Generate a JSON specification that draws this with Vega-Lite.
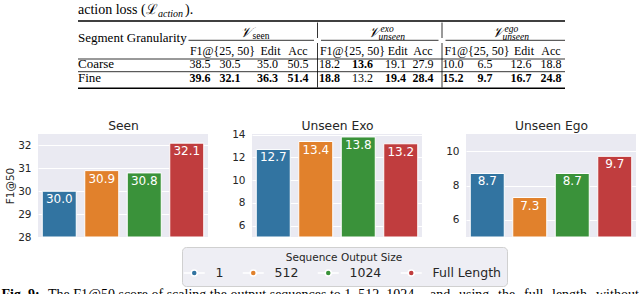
{
  "$schema": "https://vega.github.io/schema/vega-lite/v6.json",
  "background": "white",
  "padding": {"left": 1, "top": 2, "right": 0, "bottom": 0},
  "bounds": "flush",
  "spacing": 44,
  "datasets": {
    "seen": [
      {"size": "1", "v": 30.0}, {"size": "512", "v": 30.9}, {"size": "1024", "v": 30.8}, {"size": "Full Length", "v": 32.1}
    ],
    "exo": [
      {"size": "1", "v": 12.7}, {"size": "512", "v": 13.4}, {"size": "1024", "v": 13.8}, {"size": "Full Length", "v": 13.2}
    ],
    "ego": [
      {"size": "1", "v": 8.7}, {"size": "512", "v": 7.3}, {"size": "1024", "v": 8.7}, {"size": "Full Length", "v": 9.7}
    ],
    "cells": [
      {"c": 0, "r": 0, "t": "action loss (", "k": "capL"},
      {"c": 0.5, "r": 0, "t": "ℒ", "k": "capL"},
      {"c": 1, "r": 0, "t": "action", "k": "capSub"},
      {"c": 2, "r": 0, "t": ").", "k": "capL"},
      {"c": 0, "r": 4, "t": "Segment Granularity", "k": "left"},
      {"c": 0, "r": 10, "t": "Coarse", "k": "left"},
      {"c": 0, "r": 12, "t": "Fine", "k": "left"},
      {"c": 7, "r": 3, "t": "𝒱", "k": "V"},
      {"c": 7, "r": 3, "t": "seen", "k": "subU"},
      {"c": 17, "r": 3, "t": "𝒱", "k": "V"},
      {"c": 17, "r": 3, "t": "unseen", "k": "subI"},
      {"c": 17, "r": 3, "t": "exo", "k": "supI"},
      {"c": 27, "r": 3, "t": "𝒱", "k": "V"},
      {"c": 27, "r": 3, "t": "unseen", "k": "subI"},
      {"c": 27, "r": 3, "t": "ego", "k": "supI"},
      {"c": 5, "r": 8, "t": "F1@{25, 50}", "k": "num"},
      {"c": 9, "r": 8, "t": "Edit", "k": "num"},
      {"c": 10, "r": 8, "t": "Acc", "k": "num"},
      {"c": 15, "r": 8, "t": "F1@{25, 50}", "k": "num"},
      {"c": 19, "r": 8, "t": "Edit", "k": "num"},
      {"c": 20, "r": 8, "t": "Acc", "k": "num"},
      {"c": 25, "r": 8, "t": "F1@{25, 50}", "k": "num"},
      {"c": 29, "r": 8, "t": "Edit", "k": "num"},
      {"c": 30, "r": 8, "t": "Acc", "k": "num"},
      {"c": 4, "r": 10, "t": "38.5", "k": "num"},
      {"c": 6, "r": 10, "t": "30.5", "k": "num"},
      {"c": 8, "r": 10, "t": "35.0", "k": "num"},
      {"c": 10, "r": 10, "t": "50.5", "k": "num"},
      {"c": 14, "r": 10, "t": "18.2", "k": "num"},
      {"c": 16, "r": 10, "t": "13.6", "k": "bold"},
      {"c": 18, "r": 10, "t": "19.1", "k": "num"},
      {"c": 20, "r": 10, "t": "27.9", "k": "num"},
      {"c": 24, "r": 10, "t": "10.0", "k": "num"},
      {"c": 26, "r": 10, "t": "6.5", "k": "num"},
      {"c": 28, "r": 10, "t": "12.6", "k": "num"},
      {"c": 30, "r": 10, "t": "18.8", "k": "num"},
      {"c": 4, "r": 12, "t": "39.6", "k": "bold"},
      {"c": 6, "r": 12, "t": "32.1", "k": "bold"},
      {"c": 8, "r": 12, "t": "36.3", "k": "bold"},
      {"c": 10, "r": 12, "t": "51.4", "k": "bold"},
      {"c": 14, "r": 12, "t": "18.8", "k": "bold"},
      {"c": 16, "r": 12, "t": "13.2", "k": "num"},
      {"c": 18, "r": 12, "t": "19.4", "k": "bold"},
      {"c": 20, "r": 12, "t": "28.4", "k": "bold"},
      {"c": 24, "r": 12, "t": "15.2", "k": "bold"},
      {"c": 26, "r": 12, "t": "9.7", "k": "bold"},
      {"c": 28, "r": 12, "t": "16.7", "k": "bold"},
      {"c": 30, "r": 12, "t": "24.8", "k": "bold"},
      {"c": -1, "r": 15, "t": "Fig. 9:", "k": "figB"},
      {"c": -0.5, "r": 15, "t": "The F1@50 score of scaling the output sequences to 1, 512, 1024", "k": "fig"},
      {"c": -0.95, "r": 15, "t": "and", "k": "fig"},
      {"c": -0.9, "r": 15, "t": "using", "k": "fig"},
      {"c": -0.85, "r": 15, "t": "the", "k": "fig"},
      {"c": -0.8, "r": 15, "t": "full", "k": "fig"},
      {"c": -0.75, "r": 15, "t": "length", "k": "fig"},
      {"c": -0.7, "r": 15, "t": "without", "k": "fig"}
    ],
    "hrules": [
      {"c": 0, "c2": 31, "r": 1, "w": "thick"},
      {"c": 3, "c2": 11, "r": 6, "w": "thin"},
      {"c": 13, "c2": 21, "r": 6, "w": "thin"},
      {"c": 23, "c2": 31, "r": 6, "w": "thin"},
      {"c": 0, "c2": 31, "r": 9, "w": "thin"},
      {"c": 0, "c2": 31, "r": 11, "w": "thin"},
      {"c": 0, "c2": 31, "r": 14, "w": "thick"}
    ],
    "vrules": [
      {"c": 12, "r": 2, "r2": 5},
      {"c": 12, "r": 7, "r2": 13},
      {"c": 22, "r": 2, "r2": 5},
      {"c": 22, "r": 7, "r2": 13}
    ]
  },
  "hconcat": [
    {
      "width": 170,
      "height": 103,
      "resolve": {"scale": {"x": "independent", "y": "independent"}},
      "layer": [
        {
          "data": {"name": "seen"},
          "encoding": {
            "x": {"field": "size", "type": "nominal", "sort": null, "scale": {"paddingInner": 0.2, "paddingOuter": 0.1},
              "axis": {"orient": "top", "title": "Seen", "labels": false, "ticks": false, "domain": false, "grid": false, "titleFontSize": 12.3, "titlePadding": 2}},
            "y": {"field": "v", "type": "quantitative", "scale": {"domain": [28, 32.5], "nice": false, "zero": false}, "axis": {"values": [28, 29, 30, 31, 32], "title": "F1@50"}}
          },
          "layer": [
            {
              "mark": {"type": "bar", "stroke": "white", "strokeWidth": 1, "clip": true},
              "encoding": {
                "y2": {"datum": 28},
                "color": {
                  "field": "size", "type": "nominal",
                  "scale": {"domain": ["1", "512", "1024", "Full Length"], "range": ["#3274a1", "#e1812c", "#3a923a", "#c03d3e"]},
                  "legend": {
                    "title": "Sequence Output Size",
                    "orient": "none",
                    "legendX": 144,
                    "legendY": 113,
                    "direction": "horizontal",
                    "titleAnchor": "middle",
                    "symbolType": "M-2.1,0L-0.6,0M0.6,0L2.1,0M0.6,0A0.6,0.6,0,1,1,-0.6,0A0.6,0.6,0,1,1,0.6,0Z",
                    "symbolSize": 100,
                    "labelOffset": 15,
                    "columnPadding": 15,
                    "encode": {
                      "symbols": {
                        "update": {
                          "fill": {"signal": "datum.value == '1' ? '#1f77b4' : datum.value == '512' ? '#ff7f0e' : datum.value == '1024' ? '#2ca02c' : '#d62728'"},
                          "stroke": {"value": "white"},
                          "strokeWidth": {"value": 1.5},
                          "opacity": {"value": 1}
                        }
                      }
                    }
                  }
                }
              }
            },
            {
              "mark": {"type": "text", "color": "white", "font": "DejaVu Sans", "fontSize": 12, "baseline": "top", "dy": 3},
              "encoding": {"text": {"field": "v", "type": "quantitative", "format": ".1f"}}
            }
          ]
        },
        {
          "encoding": {
            "x": {"field": "c", "type": "quantitative", "axis": null, "scale": {"nice": false, "zero": false,
              "domain": [-1, -0.95, -0.9, -0.85, -0.8, -0.75, -0.7, -0.5, 0, 0.5, 1, 2, 3, 4, 5, 6, 7, 8, 9, 10, 11, 12, 13, 14, 15, 16, 17, 18, 19, 20, 21, 22, 23, 24, 25, 26, 27, 28, 29, 30, 31],
              "range": [-36.5, 392, 421, 460, 486, 514, 558, 10, 40, 108, 120, 147, 150.5, 162, 184.5, 192, 214, 229.5, 232.5, 260, 276, 279.5, 283, 291.5, 314.5, 324.5, 341.5, 357.5, 359.7, 385, 400.5, 404, 407.5, 415, 439, 447, 465.5, 483, 486, 513, 527]}},
            "y": {"field": "r", "type": "quantitative", "axis": null, "scale": {"nice": false, "zero": false,
              "domain": [0, 1, 2, 3, 4, 5, 6, 7, 8, 9, 10, 11, 12, 13, 14, 15],
              "range": [-120.5, -113, -111.5, -101, -96.5, -96, -93.7, -91, -83.5, -75, -69.7, -62.3, -55.7, -46.5, -45.7, 165]}}
          },
          "layer": [
            {"data": {"name": "hrules"}, "transform": [{"filter": "datum.w == 'thick'"}], "mark": {"type": "rule", "color": "black", "strokeWidth": 1.6}, "encoding": {"x2": {"field": "c2"}}},
            {"data": {"name": "hrules"}, "transform": [{"filter": "datum.w == 'thin'"}], "mark": {"type": "rule", "color": "black", "strokeWidth": 0.8}, "encoding": {"x2": {"field": "c2"}}},
            {"data": {"name": "vrules"}, "mark": {"type": "rule", "color": "black", "strokeWidth": 0.8}, "encoding": {"y2": {"field": "r2"}}},
            {"data": {"name": "cells"}, "transform": [{"filter": "datum.k == 'capL'"}], "mark": {"type": "text", "font": "Liberation Serif", "fontSize": 14, "align": "left", "baseline": "alphabetic", "color": "black"}, "encoding": {"text": {"field": "t"}}},
            {"data": {"name": "cells"}, "transform": [{"filter": "datum.k == 'capSub'"}], "mark": {"type": "text", "font": "Liberation Serif", "fontSize": 10, "fontStyle": "italic", "align": "left", "baseline": "alphabetic", "dy": 3, "color": "black"}, "encoding": {"text": {"field": "t"}}},
            {"data": {"name": "cells"}, "transform": [{"filter": "datum.k == 'left'"}], "mark": {"type": "text", "font": "Liberation Serif", "fontSize": 13, "align": "left", "baseline": "middle", "color": "black"}, "encoding": {"text": {"field": "t"}}},
            {"data": {"name": "cells"}, "transform": [{"filter": "datum.k == 'num'"}], "mark": {"type": "text", "font": "Liberation Serif", "fontSize": 12, "align": "center", "baseline": "middle", "color": "black"}, "encoding": {"text": {"field": "t"}}},
            {"data": {"name": "cells"}, "transform": [{"filter": "datum.k == 'bold'"}], "mark": {"type": "text", "font": "Liberation Serif", "fontSize": 12, "fontWeight": "bold", "align": "center", "baseline": "middle", "color": "black"}, "encoding": {"text": {"field": "t"}}},
            {"data": {"name": "cells"}, "transform": [{"filter": "datum.k == 'V'"}], "mark": {"type": "text", "font": "DejaVu Serif", "fontSize": 14, "fontStyle": "italic", "align": "right", "baseline": "middle", "color": "black"}, "encoding": {"text": {"field": "t"}}},
            {"data": {"name": "cells"}, "transform": [{"filter": "datum.k == 'subU'"}], "mark": {"type": "text", "font": "Liberation Serif", "fontSize": 9.5, "align": "left", "baseline": "middle", "dy": 3, "dx": 0.5, "color": "black"}, "encoding": {"text": {"field": "t"}}},
            {"data": {"name": "cells"}, "transform": [{"filter": "datum.k == 'subI'"}], "mark": {"type": "text", "font": "Liberation Serif", "fontSize": 9.5, "fontStyle": "italic", "align": "left", "baseline": "middle", "dy": 4, "dx": -1, "color": "black"}, "encoding": {"text": {"field": "t"}}},
            {"data": {"name": "cells"}, "transform": [{"filter": "datum.k == 'supI'"}], "mark": {"type": "text", "font": "Liberation Serif", "fontSize": 9.5, "fontStyle": "italic", "align": "left", "baseline": "middle", "dy": -4, "dx": 1, "color": "black"}, "encoding": {"text": {"field": "t"}}},
            {"data": {"name": "cells"}, "transform": [{"filter": "datum.k == 'figB'"}], "mark": {"type": "text", "font": "Liberation Serif", "fontSize": 14, "fontWeight": "bold", "align": "left", "baseline": "alphabetic", "color": "black"}, "encoding": {"text": {"field": "t"}}},
            {"data": {"name": "cells"}, "transform": [{"filter": "datum.k == 'fig'"}], "mark": {"type": "text", "font": "Liberation Serif", "fontSize": 14, "align": "left", "baseline": "alphabetic", "color": "black"}, "encoding": {"text": {"field": "t"}}}
          ]
        }
      ]
    },
    {
      "width": 170,
      "height": 103,
      "data": {"name": "exo"},
      "encoding": {
        "x": {"field": "size", "type": "nominal", "sort": null, "scale": {"paddingInner": 0.2, "paddingOuter": 0.1},
          "axis": {"orient": "top", "title": "Unseen Exo", "labels": false, "ticks": false, "domain": false, "grid": false, "titleFontSize": 12.3, "titlePadding": 2}},
        "y": {"field": "v", "type": "quantitative", "scale": {"domain": [5, 14.06], "nice": false, "zero": false}, "axis": {"values": [6, 8, 10, 12, 14], "title": null}}
      },
      "layer": [
        {
          "mark": {"type": "bar", "stroke": "white", "strokeWidth": 1, "clip": true},
          "encoding": {
            "y2": {"datum": 5},
            "color": {"field": "size", "type": "nominal", "scale": {"domain": ["1", "512", "1024", "Full Length"], "range": ["#3274a1", "#e1812c", "#3a923a", "#c03d3e"]}}
          }
        },
        {
          "mark": {"type": "text", "color": "white", "font": "DejaVu Sans", "fontSize": 12, "baseline": "top", "dy": 3},
          "encoding": {"text": {"field": "v", "type": "quantitative", "format": ".1f"}}
        }
      ]
    },
    {
      "width": 170,
      "height": 103,
      "data": {"name": "ego"},
      "encoding": {
        "x": {"field": "size", "type": "nominal", "sort": null, "scale": {"paddingInner": 0.2, "paddingOuter": 0.1},
          "axis": {"orient": "top", "title": "Unseen Ego", "labels": false, "ticks": false, "domain": false, "grid": false, "titleFontSize": 12.3, "titlePadding": 2}},
        "y": {"field": "v", "type": "quantitative", "scale": {"domain": [5, 11], "nice": false, "zero": false}, "axis": {"values": [6, 8, 10], "title": null}}
      },
      "layer": [
        {
          "mark": {"type": "bar", "stroke": "white", "strokeWidth": 1, "clip": true},
          "encoding": {
            "y2": {"datum": 5},
            "color": {"field": "size", "type": "nominal", "scale": {"domain": ["1", "512", "1024", "Full Length"], "range": ["#3274a1", "#e1812c", "#3a923a", "#c03d3e"]}}
          }
        },
        {
          "mark": {"type": "text", "color": "white", "font": "DejaVu Sans", "fontSize": 12, "baseline": "top", "dy": 3},
          "encoding": {"text": {"field": "v", "type": "quantitative", "format": ".1f"}}
        }
      ]
    }
  ],
  "config": {
    "view": {"fill": "#eaeaf2", "stroke": null},
    "font": "DejaVu Sans",
    "axis": {
      "grid": true, "gridColor": "white", "gridWidth": 1, "domain": false, "ticks": false,
      "labelPadding": 7, "labelFont": "DejaVu Sans", "labelFontSize": 10.5, "labelColor": "#262626",
      "titleFont": "DejaVu Sans", "titleFontSize": 10.5, "titleFontWeight": "normal", "titleColor": "#262626", "titlePadding": 2
    },
    "legend": {
      "titleFont": "DejaVu Sans", "titleFontSize": 10.5, "titleFontWeight": "normal", "titleColor": "#262626", "titlePadding": 3,
      "labelFont": "DejaVu Sans", "labelFontSize": 12.5, "labelColor": "#262626",
      "fillColor": "#eeeef4", "strokeColor": "#d0d0d0", "cornerRadius": 4, "padding": 6
    }
  }
}
